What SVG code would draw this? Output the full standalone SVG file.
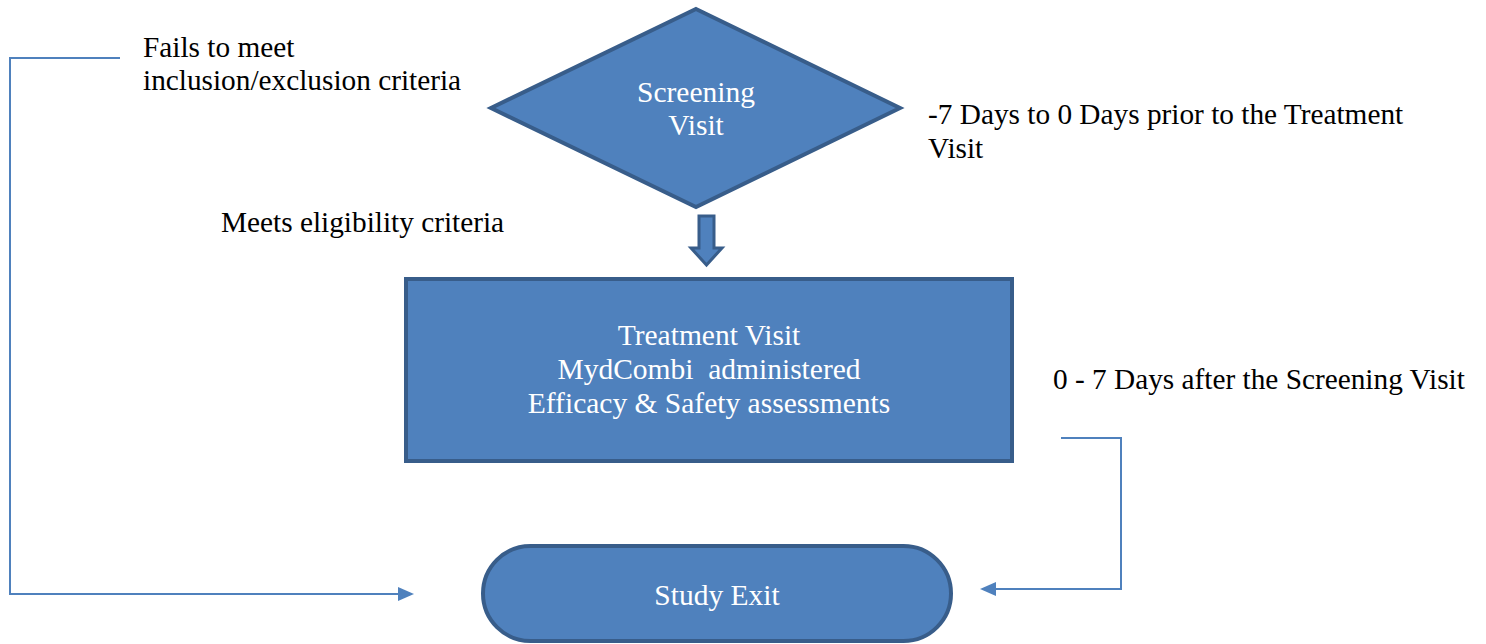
<svg xmlns="http://www.w3.org/2000/svg" width="1486" height="644" viewBox="0 0 1486 644">
<style>
.shape{fill:#4f81bd;stroke:#385d8a;stroke-width:4}
.w{fill:#ffffff;font-family:"Liberation Serif","Times New Roman",serif;font-size:29.5px;text-anchor:middle}
.b{fill:#000000;font-family:"Liberation Serif","Times New Roman",serif;font-size:29.3px}
.c{fill:none;stroke:#4f81bd;stroke-width:2}
</style>
<g id="connectors">
<polyline class="c" points="120,58 10,58 10,594 398,594"/>
<path d="M398,587 L414,594 L398,601 Z" fill="#4f81bd"/>
<polyline class="c" points="1061,438 1121,438 1121,589 996,589"/>
<path d="M996,582 L980,589 L996,596 Z" fill="#4f81bd"/>
<path d="M699,216 L714,216 L714,248 L722,248 L706.5,265 L691,248 L699,248 Z" fill="#4f81bd" stroke="#385d8a" stroke-width="3"/>
</g>
<g id="screening">
<polygon class="shape" points="696,9 900,108 696,207 491,108"/>
<text class="w" x="696" y="102">Screening</text>
<text class="w" x="696" y="135">Visit</text>
</g>
<g id="treatment">
<rect class="shape" x="406" y="279" width="606" height="182"/>
<text class="w" x="709" y="345">Treatment Visit</text>
<text class="w" x="709" y="379">MydCombi&#160; administered</text>
<text class="w" x="709" y="413">Efficacy &amp; Safety assessments</text>
</g>
<g id="exit">
<rect class="shape" x="483" y="546" width="468" height="95" rx="47.5" ry="47.5"/>
<text class="w" x="717" y="605">Study Exit</text>
</g>
<g id="labels">
<text class="b" x="143" y="57">Fails to meet</text>
<text class="b" x="143" y="90">inclusion/exclusion criteria</text>
<text class="b" x="928" y="124">-7 Days to 0 Days prior to the Treatment</text>
<text class="b" x="928" y="158">Visit</text>
<text class="b" x="221" y="232">Meets eligibility criteria</text>
<text class="b" x="1053" y="389">0 - 7 Days after the Screening Visit</text>
</g>
</svg>
